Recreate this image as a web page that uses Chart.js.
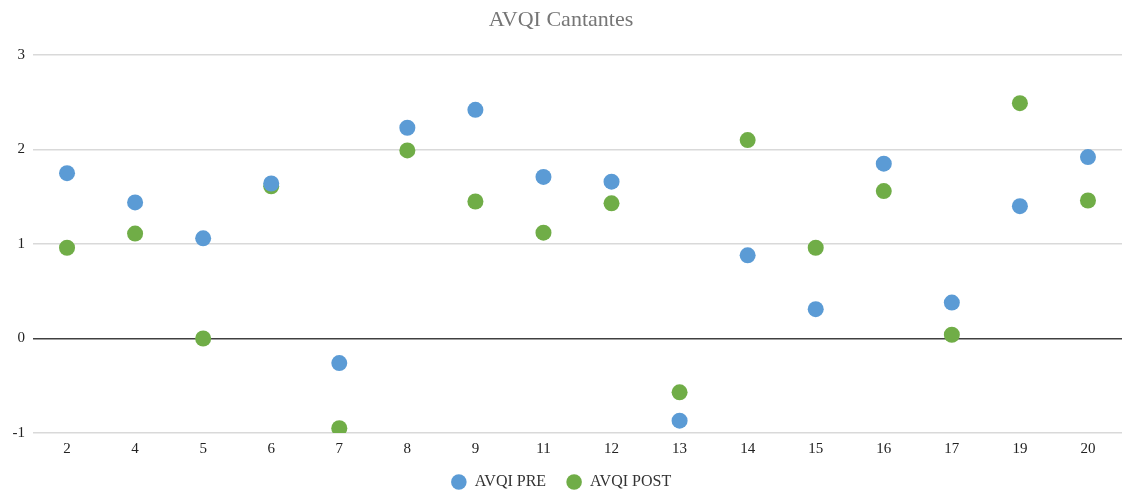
<!DOCTYPE html>
<html>
<head>
<meta charset="utf-8">
<script src="https://cdn.jsdelivr.net/npm/chart.js@4/dist/chart.umd.min.js"></script>
<style>
html,body{margin:0;padding:0;background:#fff;}
#wrap{width:1131px;height:492px;}
</style>
</head>
<body>
<div id="wrap"><canvas id="avqiChart" width="1131" height="492"></canvas></div>
<script>
// categorias (cantantes) y valores
const cantantes=["2","4","5","6","7","8","9","11","12","13","14","15","16","17","19","20"];
const avqiPre=[1.75,1.44,1.06,1.64,-0.26,2.23,2.42,1.71,1.66,-0.87,0.88,0.31,1.85,0.38,1.40,1.92];
const avqiPost=[0.96,1.11,0,1.61,-0.95,1.99,1.45,1.12,1.43,-0.57,2.10,0.96,1.56,0.04,2.49,1.46];
const yTicks=[-1,0,1,2,3];

const serif="'Liberation Serif','Times New Roman',serif";

let ctx=document.getElementById("avqiChart");
let chart=new Chart(ctx,{
type:"line",
data:{
labels:cantantes,
datasets:[{
label:"AVQI PRE",
data:avqiPre,
showLine:false,
pointRadius:8,
pointHoverRadius:8,
pointBorderWidth:0,
backgroundColor:"#5b9bd5",
borderColor:"#5b9bd5"
},{
label:"AVQI POST",
data:avqiPost,
showLine:false,
pointRadius:8,
pointHoverRadius:8,
pointBorderWidth:0,
backgroundColor:"#70ad47",
borderColor:"#70ad47"
}]
},
options:{
responsive:false,
animation:false,
layout:{padding:{left:0,right:9,top:0,bottom:-8}},
plugins:{
title:{
display:true,
text:"AVQI Cantantes",
color:"#767676",
font:{family:serif,size:22,weight:"normal"},
padding:{top:7,bottom:21.6}
},
legend:{
position:"bottom",
labels:{
usePointStyle:true,
pointStyle:"circle",
boxHeight:11,
padding:20,
color:"#333",
font:{family:serif,size:16}
}
},
tooltip:{enabled:false}
},
scales:{
x:{
offset:true,
grid:{display:false,drawTicks:false},
border:{display:false},
ticks:{color:"#222",padding:7,font:{family:serif,size:15}},
afterFit:function(s){s.height=21;}
},
y:{
min:-1,
max:3,
afterBuildTicks:function(s){s.ticks=yTicks.map(v=>({value:v}));},
grid:{
drawTicks:false,
lineWidth:1.5,
color:function(c){return c.tick&&c.tick.value===0?"#404040":"#d9d9d9";}
},
border:{display:false},
ticks:{color:"#222",padding:8,font:{family:serif,size:15}},
afterFit:function(s){s.width=33;}
}
}
}
});
</script>
</body>
</html>
